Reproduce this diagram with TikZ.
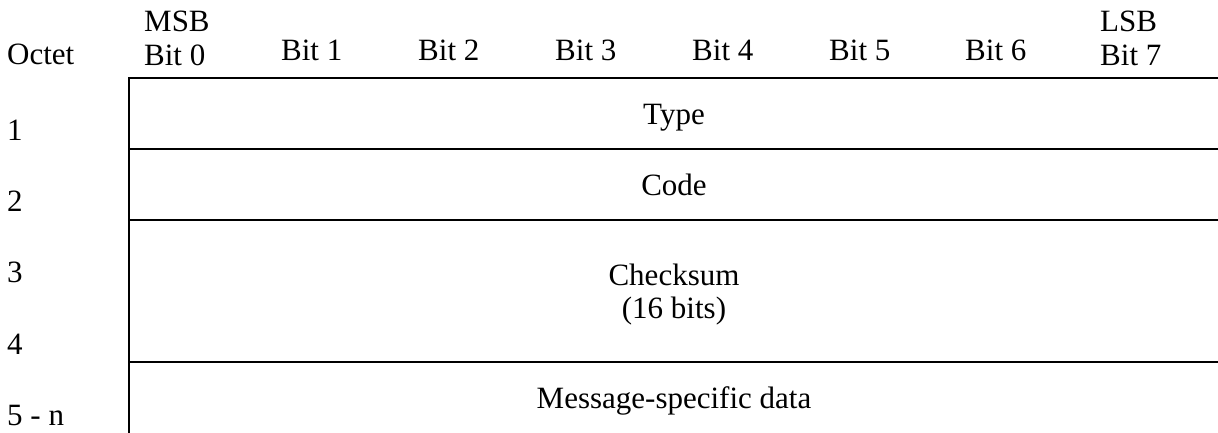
\documentclass[tikz,border=0pt]{standalone}
\usepackage{fontspec}
\setmainfont{Liberation Serif}
\tikzset{
  grid/.style={line width=2.2pt, line cap=rect},
  lbl/.style={inner sep=0pt, font=\fontsize{31}{35}\selectfont},
}
\begin{document}
\begin{tikzpicture}[x=1pt,y=-1pt]
\useasboundingbox (0,0) rectangle (1218,432);
% frame lines
\coordinate (tl) at (129,78);
\coordinate (bl) at (129,432);
\coordinate (tr) at (1218,78);
\coordinate (l2) at (129,149);
\coordinate (r2) at (1218,149);
\coordinate (l3) at (129,220);
\coordinate (r3) at (1218,220);
\coordinate (l4) at (129,362);
\coordinate (r4) at (1218,362);
\draw[grid] (bl) -- (tl) -- (tr);
\draw[grid] (l2) -- (r2);
\draw[grid] (l3) -- (r3);
\draw[grid] (l4) -- (r4);
% header
\node[lbl, anchor=base west] (oct) at (7,64) {Octet};
\node[lbl, anchor=base west] (msb) at (144,31) {MSB};
\node[lbl, anchor=base west] (b0) at (144,65) {Bit 0};
\node[lbl, anchor=base west] (b1) at (281,60) {Bit 1};
\node[lbl, anchor=base west] (b2) at (418,60) {Bit 2};
\node[lbl, anchor=base west] (b3) at (555,60) {Bit 3};
\node[lbl, anchor=base west] (b4) at (692,60) {Bit 4};
\node[lbl, anchor=base west] (b5) at (829,60) {Bit 5};
\node[lbl, anchor=base west] (b6) at (965,60) {Bit 6};
\node[lbl, anchor=base west] (lsb) at (1100,31) {LSB};
\node[lbl, anchor=base west] (b7) at (1100,65) {Bit 7};
% octet numbers
\node[lbl, anchor=base west] (o1) at (7,140) {1};
\node[lbl, anchor=base west] (o2) at (7,211) {2};
\node[lbl, anchor=base west] (o3) at (7,282) {3};
\node[lbl, anchor=base west] (o4) at (7,354) {4};
\node[lbl, anchor=base west] (o5) at (7,425) {5 - n};
% fields
\node[lbl, anchor=base] (type) at (674,124) {Type};
\node[lbl, anchor=base] (code) at (674,195) {Code};
\node[lbl, anchor=base] (cks) at (674,285) {Checksum};
\node[lbl, anchor=base] (cks2) at (674,318) {(16 bits)};
\node[lbl, anchor=base] (msg) at (674,408) {Message-specific data};
\end{tikzpicture}
\end{document}
